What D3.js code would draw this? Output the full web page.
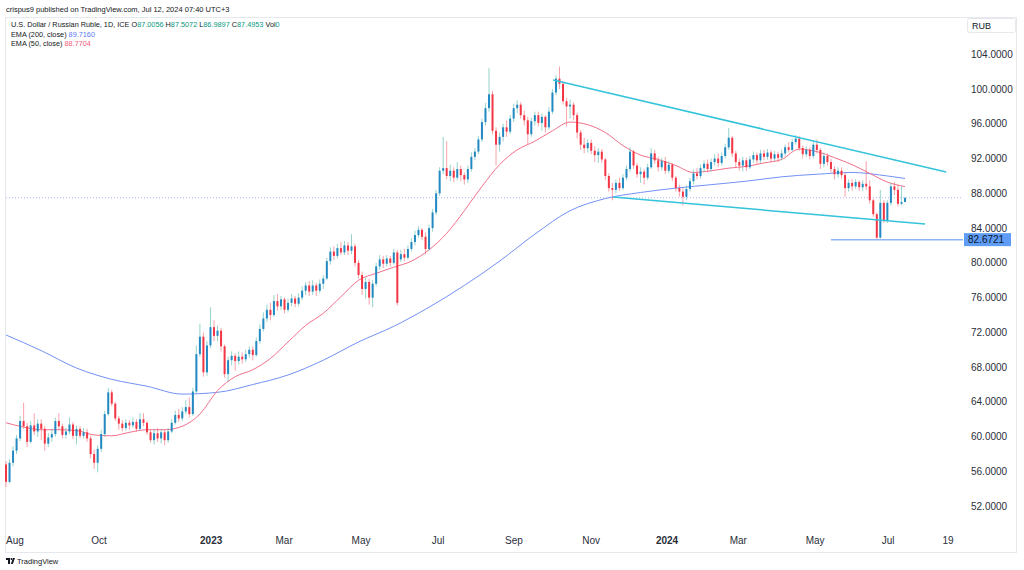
<!DOCTYPE html>
<html><head><meta charset="utf-8">
<script src="https://cdn.jsdelivr.net/npm/d3@7"></script>
<style>body{margin:0;background:#fff}svg{display:block;font-family:"Liberation Sans",Arial,sans-serif}</style>
</head><body><svg id="c" width="1024" height="570"></svg>
<script>
// ---- data (each candle = 2 trading days, Jul 2022 .. Jul 12 2024) ----
const opens = [
56.8,54.8,57.0,58.4,59.8,61.8,61.2,59.4,61.3,60.6,
61.5,60.9,59.2,59.9,60.3,61.8,61.2,60.2,60.6,61.4,
60.1,60.9,60.1,60.5,59.8,58.0,57.0,58.6,60.3,62.6,
65.1,63.8,62.1,61.5,61.0,61.6,61.3,61.7,60.9,62.0,
61.6,60.5,59.6,60.4,59.8,60.5,59.6,60.6,61.6,62.5,
62.1,62.9,63.4,62.6,65.2,69.5,71.5,67.4,70.5,72.6,
71.6,72.2,70.4,67.2,68.8,69.3,68.7,69.2,68.9,69.5,
70.0,69.4,71.0,72.4,73.6,74.6,74.0,75.6,75.0,75.8,
74.6,75.4,75.9,75.3,76.0,76.8,77.4,76.7,77.4,76.8,
77.6,78.2,80.2,81.3,80.8,81.7,81.2,82.0,81.4,81.9,
80.0,78.6,77.0,77.8,76.0,77.6,79.6,80.4,79.9,80.5,
80.0,81.2,80.4,81.0,80.6,81.6,82.4,83.2,83.8,83.0,
81.6,84.0,85.8,88.0,90.6,90.9,90.0,90.6,89.8,90.8,
90.1,89.6,90.8,92.2,92.8,94.2,96.2,97.8,99.4,95.2,
93.6,94.5,95.6,95.1,96.6,97.8,98.2,97.0,96.4,94.8,
96.3,97.0,96.1,96.8,95.6,97.4,99.6,101.2,100.6,98.6,
98.0,98.2,97.0,95.0,93.6,93.2,93.8,92.9,92.4,92.8,
91.9,90.0,88.6,88.4,89.2,88.6,89.8,90.8,92.8,91.2,
90.2,90.5,89.8,91.0,92.6,91.8,91.0,91.7,90.6,91.3,
89.8,88.6,88.2,87.6,88.5,89.4,90.3,90.0,90.9,91.4,
90.8,91.6,92.0,91.5,92.3,93.3,94.4,92.6,91.6,91.2,
91.8,91.0,91.9,92.4,91.8,92.6,92.2,92.7,92.0,92.5,
92.1,92.6,93.3,93.0,93.9,94.3,93.2,92.5,93.0,92.3,
93.6,93.0,91.4,92.3,91.6,90.8,90.2,90.6,90.1,88.6,
89.2,88.8,89.3,88.7,89.1,88.8,87.2,85.6,82.9,86.9,
84.9,86.9,88.8,88.4,86.8,87.0056];
const highs = [
57.2,57.4,58.9,60.2,62.4,63.9,61.6,61.8,62.7,62.0,
62.0,61.2,60.4,60.9,62.2,62.7,61.5,61.0,62.2,61.7,
61.3,61.2,61.0,60.9,60.1,58.5,59.0,60.8,63.0,65.6,
65.4,64.0,62.4,61.9,62.0,61.9,62.2,62.0,62.7,62.7,
61.8,60.8,60.9,61.0,60.9,60.8,61.0,62.0,63.0,63.2,
63.4,64.2,64.5,65.6,70.5,73.0,72.0,71.0,74.9,73.4,
72.8,72.5,70.6,69.2,69.8,69.6,69.8,69.7,70.0,70.4,
70.4,71.4,72.9,74.3,75.2,75.4,76.3,76.4,76.2,76.0,
75.9,76.4,76.2,76.5,77.3,77.8,77.9,78.0,77.7,78.1,
78.6,80.6,81.8,81.9,82.2,82.4,82.5,82.4,83.3,82.2,
80.3,79.0,78.3,78.2,78.0,80.0,80.9,80.8,80.9,80.8,
81.6,81.5,81.5,81.6,82.0,82.8,83.7,84.2,84.0,83.5,
84.4,86.2,88.4,91.0,94.5,94.0,91.3,91.0,91.6,91.2,
90.4,91.2,92.7,93.2,94.6,96.6,98.4,102.4,99.8,95.6,
95.0,96.0,96.4,97.0,98.3,98.7,98.5,97.5,96.8,96.7,
97.4,97.4,97.2,97.0,97.9,100.0,101.6,102.6,100.9,99.0,
98.8,98.5,97.3,95.3,94.4,94.2,94.2,93.4,93.2,93.1,
92.1,90.3,89.2,89.6,89.8,90.2,91.2,93.3,93.0,91.5,
91.0,90.8,91.4,93.2,93.0,92.2,92.1,92.2,91.7,91.5,
90.0,89.0,88.6,88.9,89.8,90.7,90.9,91.3,91.8,91.9,
92.0,92.5,92.6,92.7,93.7,95.5,94.6,92.9,92.0,92.2,
92.1,92.3,92.8,92.7,93.0,93.0,93.1,93.0,92.9,92.8,
93.0,93.6,93.9,94.3,94.7,94.6,93.5,93.4,93.3,94.0,
94.2,93.2,92.7,92.6,92.0,91.1,91.0,91.0,90.4,89.6,
89.6,89.6,89.5,89.5,91.7,89.5,87.4,85.8,88.4,87.2,
87.2,89.2,89.3,89.0,88.8,87.5072];
const lows = [
54.2,54.6,56.6,58.0,59.5,60.9,58.8,59.2,60.2,60.0,
59.6,58.4,58.8,59.4,60.0,60.8,59.8,59.8,60.3,59.7,
59.1,59.8,59.8,59.4,57.5,56.3,55.9,58.2,60.0,62.4,
63.5,61.8,60.8,60.6,60.7,60.8,61.0,60.6,60.7,61.2,
60.2,59.3,59.1,59.4,59.2,59.0,59.3,60.4,61.4,61.7,
61.8,62.6,62.2,62.4,65.0,69.2,66.9,67.0,70.2,71.0,
71.0,69.8,66.8,66.3,68.2,67.6,68.3,68.4,68.6,69.1,
68.8,69.2,70.7,72.1,73.2,73.4,73.8,74.5,74.6,74.2,
74.3,75.0,74.9,75.0,75.7,76.3,76.2,76.3,76.2,76.5,
77.0,78.0,79.8,80.3,80.5,80.9,80.9,80.9,81.0,79.6,
78.2,76.3,75.9,75.2,74.9,77.3,79.2,79.4,79.6,79.6,
79.8,75.1,80.1,80.2,80.4,81.3,82.0,82.9,82.6,81.0,
81.4,83.6,85.5,87.7,90.2,89.6,89.4,89.3,89.5,89.4,
89.0,89.2,90.5,91.8,92.5,93.9,95.8,97.4,94.8,91.2,
92.8,94.0,94.5,94.8,96.2,97.2,96.6,95.8,93.7,94.5,
95.8,95.7,95.2,95.0,95.3,97.1,99.3,100.0,98.2,95.7,
96.6,96.4,94.3,93.0,92.6,92.7,92.5,91.6,91.5,91.5,
89.5,88.2,87.2,88.0,88.3,88.4,89.5,90.5,90.8,89.8,
89.2,89.0,89.5,90.8,91.4,90.5,90.6,90.2,90.3,89.4,
88.2,87.6,86.6,87.2,88.2,89.0,89.6,89.7,90.5,90.4,
90.5,91.2,91.0,91.2,92.0,93.0,92.2,91.0,90.6,90.5,
90.6,90.8,91.5,91.4,91.5,91.8,91.9,91.6,91.7,91.6,
91.8,92.3,92.7,92.8,93.6,92.9,92.0,92.2,91.9,92.0,
92.6,90.8,91.0,91.2,90.4,89.6,89.8,89.7,87.6,88.2,
88.3,88.5,88.3,88.3,88.4,86.8,85.3,82.6721,82.8,84.6,
84.6,86.6,87.8,86.5,86.6,86.9897];
const closes = [
54.8,57.0,58.4,59.8,61.8,61.2,59.4,61.3,60.6,61.5,
60.9,59.2,59.9,60.3,61.8,61.2,60.2,60.6,61.4,60.1,
60.9,60.1,60.5,59.8,58.0,57.0,58.6,60.3,62.6,65.1,
63.8,62.1,61.5,61.0,61.6,61.3,61.7,60.9,62.0,61.6,
60.5,59.6,60.4,59.8,60.5,59.6,60.6,61.6,62.5,62.1,
62.9,63.4,62.6,65.2,69.5,71.5,67.4,70.5,72.6,71.6,
72.2,70.4,67.2,68.8,69.3,68.7,69.2,68.9,69.5,70.0,
69.4,71.0,72.4,73.6,74.6,74.0,75.6,75.0,75.8,74.6,
75.4,75.9,75.3,76.0,76.8,77.4,76.7,77.4,76.8,77.6,
78.2,80.2,81.3,80.8,81.7,81.2,82.0,81.4,81.9,80.0,
78.6,77.0,77.8,76.0,77.6,79.6,80.4,79.9,80.5,80.0,
81.2,75.4,81.0,80.6,81.6,82.4,83.2,83.8,83.0,81.6,
84.0,85.8,88.0,90.6,90.9,90.0,90.6,89.8,90.8,90.1,
89.6,90.8,92.2,92.8,94.2,96.2,97.8,99.4,95.2,93.6,
94.5,95.6,95.1,96.6,97.8,98.2,97.0,96.4,94.8,96.3,
97.0,96.1,96.8,95.6,97.4,99.6,101.2,100.6,98.6,98.0,
98.2,97.0,95.0,93.6,93.2,93.8,92.9,92.4,92.8,91.9,
90.0,88.6,88.4,89.2,88.6,89.8,90.8,92.8,91.2,90.2,
90.5,89.8,91.0,92.6,91.8,91.0,91.7,90.6,91.3,89.8,
88.6,88.2,87.6,88.5,89.4,90.3,90.0,90.9,91.4,90.8,
91.6,92.0,91.5,92.3,93.3,94.4,92.6,91.6,91.2,91.8,
91.0,91.9,92.4,91.8,92.6,92.2,92.7,92.0,92.5,92.1,
92.6,93.3,93.0,93.9,94.3,93.2,92.5,93.0,92.3,93.6,
93.0,91.4,92.3,91.6,90.8,90.2,90.6,90.1,88.6,89.2,
88.8,89.3,88.7,89.1,88.8,87.2,85.6,82.9,86.9,84.9,
86.9,88.8,88.4,86.8,87.0,87.4953];

const ema200At = [0,10,20,30,40,50,60,70,80,90,100,110,120,130,140,150,160,170,180,190,200,210,220,230,240,250,255];
const ema200 = [71.7,69.9,67.9,66.6,65.8,64.9,65.1,66.0,67.1,68.8,70.9,72.7,74.9,77.4,80.2,83.3,86.0,87.4,88.1,88.6,89.0,89.4,89.9,90.2,90.4,90.0,89.716];
const ema50At = [0,5,10,15,20,25,30,35,40,45,50,55,60,65,70,75,80,85,90,95,100,105,110,115,120,125,130,135,140,145,150,155,160,165,170,175,180,185,190,195,200,205,210,215,220,225,230,235,240,245,250,255];
const ema50 = [61.6,61.1,60.8,60.8,60.7,60.2,60.1,60.5,60.8,60.8,61.2,62.6,65.3,66.9,67.7,69.0,70.9,72.8,74.2,76.1,78.0,78.8,79.5,80.2,81.5,83.4,86.0,88.8,91.3,93.0,94.0,95.2,96.2,95.9,95.0,93.5,92.4,91.9,91.2,90.4,90.6,90.9,91.1,91.5,91.9,93.1,92.8,92.1,91.3,90.3,89.3,88.7704];

const upperAt = [155.2, 266.7], upperVal = [101.04, 90.45];
const lowerAt = [172.2, 260.7], lowerVal = [87.58, 84.47];
const supportAt = 234, supportVal = 82.6721;
const lastClose = 87.4953;

const priceTicks = [52,56,60,64,68,72,76,80,84,88,92,96,100,104];
const timeLabels = ["Aug","Oct","2023","Mar","May","Jul","Sep","Nov","2024","Mar","May","Jul","19"];
const timeAt = [2.55,26.4,58.2,78.9,100.7,122.6,144.1,166,187.5,207.7,229.5,250.2,267.2];
const timeBold = [false,false,true,false,false,false,false,false,true,false,false,false,false];

// ---- drawing ----
const svg = d3.select("#c");
const x = d3.scaleLinear().domain([0,255]).range([6,905]);
const y = d3.scaleLinear().domain([52,104]).range([506.2,54.3]);

svg.append("rect").attr("width",1024).attr("height",570).attr("fill","#fff");
svg.append("rect").attr("x",5.5).attr("y",17.5).attr("width",1011).attr("height",535)
  .attr("fill","none").attr("stroke","#e6e8ee");

const plot = svg.append("g");
plot.append("line").attr("x1",6).attr("x2",963).attr("y1",y(lastClose)).attr("y2",y(lastClose))
  .attr("stroke","#a9baf4").attr("stroke-width",1).attr("stroke-dasharray","1,2");

const lineGen = d3.line().curve(d3.curveMonotoneX);
plot.append("path").attr("d", lineGen(ema200At.map((a,i)=>[x(a), y(ema200[i])])))
  .attr("fill","none").attr("stroke","#7391f6").attr("stroke-width",1);
plot.append("path").attr("d", lineGen(ema50At.map((a,i)=>[x(a), y(ema50[i])])))
  .attr("fill","none").attr("stroke","#f2708a").attr("stroke-width",1);

const idx = d3.range(closes.length);
const cg = plot.append("g");
cg.selectAll("line.w").data(idx).join("line")
  .attr("x1",i=>x(i)).attr("x2",i=>x(i))
  .attr("y1",i=>y(Math.max(highs[i],opens[i],closes[i])))
  .attr("y2",i=>y(Math.min(lows[i],opens[i],closes[i])))
  .attr("stroke",i=>closes[i]>=opens[i]?"#4fb8a8":"#f26470")
  .attr("stroke-opacity",0.6).attr("stroke-width",1);
cg.selectAll("rect.b").data(idx).join("rect")
  .attr("x",i=>x(i)-1).attr("width",2)
  .attr("y",i=>y(Math.max(opens[i],closes[i])))
  .attr("height",i=>Math.max(1, Math.abs(y(opens[i])-y(closes[i]))))
  .attr("fill",i=>closes[i]>=opens[i]?"#2389c2":"#f23645");

[[upperAt,upperVal],[lowerAt,lowerVal]].forEach(([a,v])=>{
  plot.append("line").attr("x1",x(a[0])).attr("y1",y(v[0])).attr("x2",x(a[1])).attr("y2",y(v[1]))
    .attr("stroke","#33c3da").attr("stroke-width",1.5);
});
plot.append("line").attr("x1",x(supportAt)).attr("x2",963).attr("y1",y(supportVal)).attr("y2",y(supportVal))
  .attr("stroke","#8db5f2").attr("stroke-width",1.5);

const pa = svg.append("g").attr("font-size","10px").attr("fill","#2a2e39");
pa.selectAll("text").data(priceTicks).join("text")
  .attr("x",971).attr("y",d=>y(d)+3.5).text(d=>d.toFixed(4));
svg.append("rect").attr("x",964).attr("y",y(supportVal)-6.5).attr("width",47).attr("height",13)
  .attr("fill","#5e9cf6");
svg.append("text").attr("x",968).attr("y",y(supportVal)+3.6).attr("font-size","10px")
  .attr("fill","#0d1526").text(supportVal.toFixed(4));
svg.append("rect").attr("x",967.5).attr("y",18.5).attr("width",48).attr("height",14).attr("rx",2)
  .attr("fill","#fff").attr("stroke","#e6e8ee");
svg.append("text").attr("x",972).attr("y",28.5).attr("font-size","9px").attr("fill","#131722").text("RUB");

svg.append("g").selectAll("text").data(timeLabels).join("text")
  .attr("x",(d,i)=>x(timeAt[i])).attr("y",543.5).attr("text-anchor","middle")
  .attr("font-size","10px").attr("font-weight",(d,i)=>timeBold[i]?"bold":"normal")
  .attr("fill","#2a2e39").text(d=>d);

svg.append("text").attr("x",6).attr("y",12).attr("font-size","7.5px").attr("fill","#131722")
  .text("crispus9 published on TradingView.com, Jul 12, 2024 07:40 UTC+3");
const teal="#089981";
const fs="7.3px";
const l1 = svg.append("text").attr("x",11).attr("y",27).attr("font-size",fs).attr("fill","#131722");
l1.append("tspan").text("U.S. Dollar / Russian Ruble, 1D, ICE  O");
l1.append("tspan").attr("fill",teal).text(opens[255].toFixed(4));
l1.append("tspan").text(" H");
l1.append("tspan").attr("fill",teal).text(highs[255].toFixed(4));
l1.append("tspan").text(" L");
l1.append("tspan").attr("fill",teal).text(lows[255].toFixed(4));
l1.append("tspan").text(" C");
l1.append("tspan").attr("fill",teal).text(closes[255].toFixed(4));
l1.append("tspan").text(" Vol");
l1.append("tspan").attr("fill",teal).text("0");
const l2 = svg.append("text").attr("x",11).attr("y",36.7).attr("font-size",fs).attr("fill","#131722");
l2.append("tspan").text("EMA (200, close)  ");
l2.append("tspan").attr("fill","#5b7cf7").text(ema200[ema200.length-1].toFixed(4));
const l3 = svg.append("text").attr("x",11).attr("y",46.4).attr("font-size",fs).attr("fill","#131722");
l3.append("tspan").text("EMA (50, close)  ");
l3.append("tspan").attr("fill","#f25a78").text(ema50[ema50.length-1].toFixed(4));

const lg = svg.append("g").attr("fill","#131722");
lg.append("rect").attr("x",6).attr("y",558).attr("width",4).attr("height",2);
lg.append("rect").attr("x",8).attr("y",558).attr("width",2).attr("height",6);
lg.append("circle").attr("cx",11.5).attr("cy",559).attr("r",1);
lg.append("path").attr("d","M13,558 L15,558 L12.8,564 L10.8,564 Z");
svg.append("text").attr("x",17).attr("y",564).attr("font-size","7.5px").attr("fill","#131722").text("TradingView");
</script></body></html>
